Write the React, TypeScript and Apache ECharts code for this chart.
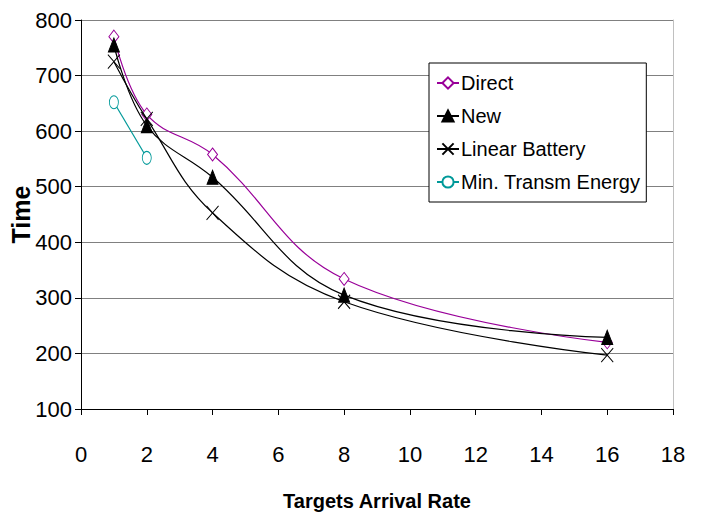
import React, { useEffect, useRef } from "react";
import * as echarts from "echarts";

const xValues = [1, 2, 4, 8, 16];
const directValues = [770, 630, 558, 334, 220];
const newValues = [755, 610, 517, 305, 229];
const linearBatteryValues = [725, 622, 453, 293, 197];
const minTransmX = [1, 2];
const minTransmValues = [652, 552];
const seriesNames = ["Direct", "New", "Linear Battery", "Min. Transm Energy"];
const xTicks = { min: 0, max: 18, interval: 2 };
const yTicks = { min: 100, max: 800, interval: 100 };

const pair = (xs: number[], ys: number[]) => xs.map((x, i) => [x, ys[i]]);

const SANS = "'Liberation Sans', Arial, sans-serif";

const crossSymbol = "path://M0,0L12,14M12,0L0,14";
const ellipseSymbol = "path://M5,0A5,7 0 1,1 5,14A5,7 0 1,1 5,0Z";

export default function App() {
  const ref = useRef<HTMLDivElement>(null);
  useEffect(() => {
    document.body.style.margin = "0";
    if (!ref.current) return;
    const chart = echarts.init(ref.current, null, { renderer: "svg" });
    const purple = "#990099";
    const teal = "#009999";
    chart.setOption({
      animation: false,
      backgroundColor: "#ffffff",
      grid: { left: 81, right: 29, top: 20, bottom: 114, containLabel: false, outerBoundsMode: "none" },
      legend: {
        orient: "vertical",
        left: 429,
        top: 63,
        padding: [8, 6, 8, 7],
        itemGap: 9,
        itemWidth: 22,
        itemHeight: 14,
        borderColor: "#000",
        borderWidth: 1,
        backgroundColor: "#fff",
        borderRadius: 0,
        data: seriesNames,
        textStyle: { fontFamily: SANS, fontSize: 20, color: "#000", padding: [0, 0, 0, -3], lineHeight: 24 },
      },
      xAxis: {
        type: "value",
        min: xTicks.min,
        max: xTicks.max,
        interval: xTicks.interval,
        name: "Targets Arrival Rate",
        nameLocation: "middle",
        nameGap: 82,
        nameTextStyle: { fontFamily: SANS, fontSize: 20, fontWeight: "bold", color: "#000" },
        axisLine: { show: true, onZero: false, lineStyle: { color: "#000", width: 1 } },
        axisTick: { show: true, length: 6, lineStyle: { color: "#000" } },
        axisLabel: { margin: 34, fontFamily: SANS, fontSize: 22, color: "#000" },
        splitLine: { show: false },
      },
      yAxis: [
        {
          type: "value",
          min: yTicks.min,
          max: yTicks.max,
          interval: yTicks.interval,
          name: "Time",
          nameLocation: "middle",
          nameGap: 48,
          nameMoveOverlap: false,
          nameTextStyle: { fontFamily: SANS, fontSize: 25, fontWeight: "bold", color: "#000" },
          axisLine: { show: true, lineStyle: { color: "#000", width: 1 } },
          axisTick: { show: true, length: 6, lineStyle: { color: "#000" } },
          axisLabel: { margin: 9, fontFamily: SANS, fontSize: 22, color: "#000" },
          splitLine: { show: true, lineStyle: { color: "#808080", width: 1 } },
        },
        {
          type: "value",
          position: "right",
          min: yTicks.min,
          max: yTicks.max,
          interval: yTicks.interval,
          axisLine: { show: true, lineStyle: { color: "#c0c0c0", width: 1 } },
          axisTick: { show: false },
          axisLabel: { show: false },
          splitLine: { show: false },
        },
      ],
      series: [
        {
          name: seriesNames[0],
          type: "line",
          smooth: 0.4,
          data: pair(xValues, directValues),
          symbol: "diamond",
          symbolSize: [10, 13],
          itemStyle: { color: "#fff", borderColor: purple, borderWidth: 1 },
          lineStyle: { color: purple, width: 1.2 },
          z: 2,
        },
        {
          name: seriesNames[1],
          type: "line",
          smooth: 0.4,
          data: pair(xValues, newValues),
          symbol: "triangle",
          symbolSize: [11, 14],
          itemStyle: { color: "#000", borderColor: "#000", borderWidth: 1 },
          lineStyle: { color: "#000", width: 1.2 },
          z: 3,
        },
        {
          name: seriesNames[2],
          type: "line",
          smooth: 0.4,
          data: pair(xValues, linearBatteryValues),
          symbol: crossSymbol,
          symbolSize: [12, 14],
          itemStyle: { color: "none", borderColor: "#000", borderWidth: 1 },
          lineStyle: { color: "#000", width: 1.2 },
          z: 4,
        },
        {
          name: seriesNames[3],
          type: "line",
          smooth: 0.4,
          data: pair(minTransmX, minTransmValues),
          symbol: ellipseSymbol,
          symbolSize: [9, 13],
          itemStyle: { color: "#fff", borderColor: teal, borderWidth: 1 },
          lineStyle: { color: teal, width: 1.2 },
          z: 5,
        },
      ],
    });
    return () => chart.dispose();
  }, []);
  return <div ref={ref} style={{ width: 702, height: 523 }} />;
}
